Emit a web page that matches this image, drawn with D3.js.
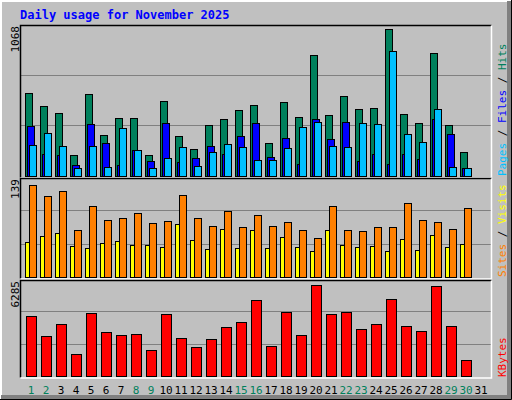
<!DOCTYPE html>
<html><head><meta charset="utf-8">
<script src="https://cdn.jsdelivr.net/npm/d3@7"></script>
<style>body{margin:0;background:#fff}svg{display:block}text{font-family:"DejaVu Sans Mono",monospace}</style>
</head><body>
<script>
let days = d3.range(1, 32);
let weekendDays = [1, 2, 8, 9, 15, 16, 22, 23, 29, 30];
let hits = [593,501,451,152,586,294,415,415,152,536,287,195,365,408,472,508,237,529,422,864,437,572,479,486,1049,444,380,878,365,173,0];
let files = [358,154,147,81,373,237,81,187,109,380,102,131,216,159,287,380,138,273,88,408,266,387,109,159,88,159,123,408,301,59,0];
let pages = [223,309,216,59,216,66,344,187,59,131,209,74,173,230,209,116,116,202,351,387,216,209,380,373,892,301,244,479,66,59,0];
let visits = [50,58,62,44,41,48,51,46,46,43,75,53,40,68,41,67,41,57,43,37,67,46,43,44,37,54,39,60,43,47,0];
let sites = [130,115,122,67,100,81,84,91,77,79,117,84,72,93,71,88,72,78,67,55,100,67,65,71,71,105,81,78,68,98,0];
let kbytes = [3978,2659,3451,1473,4176,2923,2725,2791,1736,4110,2528,1934,2462,3253,3583,5033,2000,4242,2725,6022,4110,4242,3121,3451,5099,3319,2989,5957,3319,1077,0];
let maxLabels = ["1068", "139", "6285"];

let svg = d3.select("body").append("svg").attr("width", 512).attr("height", 400);
svg.append("rect").attr("width", 512).attr("height", 400).attr("fill", "#C0C0C0");
svg.append("path").attr("d", "M1,399V1H511").attr("stroke", "#fff").attr("stroke-width", 2).attr("fill", "none");
svg.append("path").attr("d", "M1,397H509V1").attr("stroke", "#808080").attr("stroke-width", 4).attr("fill", "none");
svg.append("path").attr("d", "M0,399.5H511.5V0").attr("stroke", "#000").attr("fill", "none");

svg.append("text").attr("x", 20).attr("y", 19).attr("fill", "#0000FF")
  .attr("font-weight", "bold").attr("font-size", 12).text("Daily usage for November 2025");

let x = d3.scaleBand().domain(days).range([23, 488]);
let left = 20, right = 491;

function panel(top, bottom, max, label) {
  svg.append("rect").attr("x", left).attr("y", top).attr("width", right - left).attr("height", bottom - top)
    .attr("fill", "#C0C0C0");
  let y = d3.scaleLinear().domain([0, max]).range([bottom - 1, top + 1]);
  [1, 2].forEach(i => {
    let gy = Math.round(bottom - 1 - (bottom - top) * i / 3) + 0.5;
    svg.append("line").attr("x1", left).attr("x2", right).attr("y1", gy).attr("y2", gy)
      .attr("stroke", "#808080");
  });
  svg.append("path").attr("d", `M${left + 0.5},${bottom + 0.5}V${top + 0.5}H${right + 0.5}`)
    .attr("stroke", "#000").attr("fill", "none").attr("stroke-width", 1.5);
  svg.append("path").attr("d", `M${left + 0.5},${bottom + 1}H${right + 0.5}V${top + 0.5}`)
    .attr("stroke", "#fff").attr("fill", "none").attr("stroke-width", 1.5);
  svg.append("text").attr("transform", `translate(19,${top + 1}) rotate(-90)`)
    .attr("text-anchor", "end").attr("font-size", 11).text(label);
  return y;
}

function bars(y, values, dx, w, color) {
  svg.append("g").selectAll("rect").data(values.map((v, i) => [days[i], v]).filter(d => d[1] > 0))
    .join("rect")
    .attr("x", d => x(d[0]) + dx + 0.5).attr("y", d => Math.round(y(d[1])) + 0.5)
    .attr("width", w).attr("height", d => Math.round(y(0) - y(d[1])))
    .attr("fill", color).attr("stroke", "#000");
}

let y1 = panel(25, 177, 1068, maxLabels[0]);
bars(y1, hits, 2, 7, "#00805C");
bars(y1, files, 4, 7, "#0000FF");
bars(y1, pages, 6, 7, "#00C0FF");

let y2 = panel(178, 278, 139, maxLabels[1]);
bars(y2, visits, 2, 4, "#FFFF00");
bars(y2, sites, 6, 7, "#FF8000");

let y3 = panel(280, 377, 6285, maxLabels[2]);
bars(y3, kbytes, 3, 10, "#FF0000");

svg.append("g").selectAll("text").data(days).join("text")
  .attr("x", d => x(d) + 8).attr("y", 394).attr("text-anchor", "middle").attr("font-size", 11)
  .attr("fill", d => weekendDays.includes(d) ? "#00805C" : "#000").text(d => d);

function sideLabel(yBottom, parts) {
  let t = svg.append("text").attr("transform", `translate(506,${yBottom}) rotate(-90)`).attr("font-size", 11);
  parts.forEach(p => t.append("tspan").attr("fill", p[1]).text(p[0]));
}
sideLabel(176, [["Pages", "#00C0FF"], [" / ", "#000"], ["Files", "#0000FF"], [" / ", "#000"], ["Hits", "#00805C"]]);
sideLabel(277, [["Sites", "#FF8000"], [" / ", "#000"], ["Visits", "#FFFF00"]]);
sideLabel(377, [["KBytes", "#FF0000"]]);
</script>
</body></html>
